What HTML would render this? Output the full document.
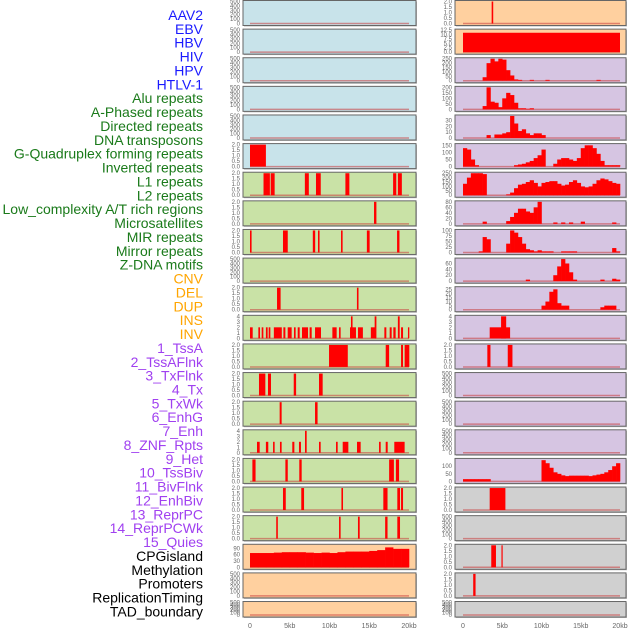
<!DOCTYPE html>
<html><head><meta charset="utf-8"><style>
body{margin:0;background:#fff;width:630px;height:630px;overflow:hidden}
svg{display:block}
text{font-family:"Liberation Sans",sans-serif}
</style></head><body>
<svg id="chart" width="630" height="630" viewBox="0 0 630 630"></svg>
<script>
const labels = ["AAV2","EBV","HBV","HIV","HPV","HTLV-1","Alu repeats","A-Phased repeats","Directed repeats","DNA transposons","G-Quadruplex forming repeats","Inverted repeats","L1 repeats","L2 repeats","Low_complexity A/T rich regions","Microsatellites","MIR repeats","Mirror repeats","Z-DNA motifs","CNV","DEL","DUP","INS","INV","1_TssA","2_TssAFlnk","3_TxFlnk","4_Tx","5_TxWk","6_EnhG","7_Enh","8_ZNF_Rpts","9_Het","10_TssBiv","11_BivFlnk","12_EnhBiv","13_ReprPC","14_ReprPCWk","15_Quies","CPGisland","Methylation","Promoters","ReplicationTiming","TAD_boundary"];
const labelColors = ["#1a1aff","#1a1aff","#1a1aff","#1a1aff","#1a1aff","#1a1aff","#1a7a1a","#1a7a1a","#1a7a1a","#1a7a1a","#1a7a1a","#1a7a1a","#1a7a1a","#1a7a1a","#1a7a1a","#1a7a1a","#1a7a1a","#1a7a1a","#1a7a1a","#ffa500","#ffa500","#ffa500","#ffa500","#ffa500","#a040f0","#a040f0","#a040f0","#a040f0","#a040f0","#a040f0","#a040f0","#a040f0","#a040f0","#a040f0","#a040f0","#a040f0","#a040f0","#a040f0","#a040f0","#000","#000","#000","#000","#000"];
const xTickLabels = ["0","5kb","10kb","15kb","20kb"];
const xTickValues = [0,5,10,15,20];
const leftBg = ["#c8e3ea","#c8e3ea","#c8e3ea","#c8e3ea","#c8e3ea","#c8e3ea","#c9e2a6","#c9e2a6","#c9e2a6","#c9e2a6","#c9e2a6","#c9e2a6","#c9e2a6","#c9e2a6","#c9e2a6","#c9e2a6","#c9e2a6","#c9e2a6","#c9e2a6","#ffd09f","#ffd09f","#ffd09f"];
const rightBg = ["#ffd09f","#ffd09f","#d6c5e2","#d6c5e2","#d6c5e2","#d6c5e2","#d6c5e2","#d6c5e2","#d6c5e2","#d6c5e2","#d6c5e2","#d6c5e2","#d6c5e2","#d6c5e2","#d6c5e2","#d6c5e2","#d6c5e2","#d0d0d0","#d0d0d0","#d0d0d0","#d0d0d0","#d0d0d0"];
const leftMax = [500,500,500,500,500,2,2,2,2,500,2,4,2,2,2,4,2,2,2,105,500,500];
const rightMax = [2,12.5,250,200,38,155,250,80,100,75,27,4,2,500,500,500,145,2,500,2,2,500];
const leftTicks = [[0,100,200,300,400,500],[0,100,200,300,400,500],[0,100,200,300,400,500],[0,100,200,300,400,500],[0,100,200,300,400,500],[0,0.5,1,1.5,2],[0,0.5,1,1.5,2],[0,0.5,1,1.5,2],[0,0.5,1,1.5,2],[0,100,200,300,400,500],[0,0.5,1,1.5,2],[0,1,2,3,4],[0,0.5,1,1.5,2],[0,0.5,1,1.5,2],[0,0.5,1,1.5,2],[0,1,2,3,4],[0,0.5,1,1.5,2],[0,0.5,1,1.5,2],[0,0.5,1,1.5,2],[0,30,60,90],[0,100,200,300,400,500],[0,100,200,300,400,500]];
const rightTicks = [[0,0.5,1,1.5,2],[0,2.5,5,7.5,10,12.5],[0,50,100,150,200,250],[0,50,100,150,200],[0,10,20,30],[0,50,100,150],[0,50,100,150,200,250],[0,20,40,60,80],[0,25,50,75,100],[0,20,40,60],[0,5,10,15,20,25],[0,1,2,3,4],[0,0.5,1,1.5,2],[0,100,200,300,400,500],[0,100,200,300,400,500],[0,100,200,300,400,500],[0,50,100],[0,0.5,1,1.5,2],[0,100,200,300,400,500],[0,0.5,1,1.5,2],[0,0.5,1,1.5,2],[0,100,200,300,400,500]];
// bars: [startKb, endKb, value]
const leftBars = [[],[],[],[],[],
 [[0,2,2]],
 [[1.7,2.5,2],[2.6,3.1,2],[6.9,7.4,2],[8.3,8.9,2],[12.0,12.5,2],[18.0,18.4,2],[18.6,19.1,2]],
 [[15.6,15.9,2]],
 [[0,0.2,2],[4.15,4.75,2],[7.9,8.2,2],[8.55,8.75,2],[11.45,11.65,2],[14.7,15.05,2],[18.5,18.8,2]],
 [],
 [[3.4,3.85,2],[13.45,13.65,2]],
 [[0,0.34,2],[1.05,1.26,2],[1.47,1.68,2],[2.0,2.22,2],[2.35,2.56,2],[3.0,4.0,2],[4.2,4.45,2],[4.74,5.24,2],[5.53,5.74,2],[6.0,6.25,2],[6.54,7.3,2],[7.5,7.76,2],[8.18,8.93,2],[10.36,10.9,2],[11.2,11.4,2],[12.58,13.33,2],[12.7,12.9,4],[13.58,14.2,2],[15.2,15.85,2],[15.68,15.9,4],[16.9,17.15,2],[17.57,17.82,2],[18.03,18.32,2],[18.6,18.83,4],[19.0,19.25,2],[19.87,20.04,2]],
 [[9.94,12.3,2],[17.07,17.5,2],[19.0,19.25,2],[19.45,20.04,2]],
 [[1.13,1.93,2],[2.26,2.64,2],[5.5,5.8,2],[8.68,9.14,2]],
 [[3.73,3.98,2],[8.18,8.5,2]],
 [[0.88,1.22,2],[2.0,2.3,2],[2.9,3.1,2],[3.77,3.98,2],[5.32,5.58,2],[6.16,6.41,2],[6.92,7.13,4],[8.68,8.89,2],[10.82,11.03,2],[11.66,12.37,2],[13.46,13.92,2],[16.23,16.44,2],[17.07,17.32,2],[18.15,19.45,2]],
 [[0.3,0.7,2],[4.45,4.75,2],[6.2,6.5,2],[17.5,18.1,2],[18.35,18.75,2]],
 [[4.15,4.5,2],[6.45,6.8,2],[11.5,11.7,2],[16.77,17.3,2],[18.53,18.87,2],[19.0,19.25,2]],
 [[3.3,3.5,2],[11.2,11.4,2],[13.58,13.8,2],[17.0,17.3,2],[18.53,18.87,2]],
 [],[],[]];
const rightBars = [[[3.65,3.85,2]],[[0,20,11]],[],[],[],[],[],[],[],[],[],
 [[3.4,6.0,2],[4.85,5.5,4]],
 [[3.1,3.5,2],[5.7,6.3,2]],
 [],[],[],[],
 [[3.4,5.4,2]],
 [],
 [[3.6,4.2,2],[4.9,5.05,2]],
 [[1.3,1.6,2]],
 []];
// histograms (equal bins over 0-20kb)
const leftHistCpG = [68,68,68,70,72,72,72,70,68,70,68,72,75,75,75,78,82,95,88,88];
const histTssAFlnk = [0,0,0,0,0,40,200,250,220,250,240,120,60,15,10,0,0,10,0,0,0,10,0,0,0,0,0,0,0,0,0,0,0,0,10,0,0,0,0,0];
const histTxFlnk = [0,0,0,0,0,30,200,70,60,20,100,150,130,60,10,10,5,10,0,0,0,0,0,0,0,0,0,0,0,0,0,0,0,0,0,0,0,0,0,0];
const histTx = [0,0,0,0,0,0,5,0,6,6,8,10,38,25,12,15,8,5,8,8,5,0,0,0,0,0,0,0,0,0,0,0,0,0,0,0,0,0,0,0];
const histTxWk = [130,120,50,10,0,0,0,0,0,0,0,0,0,10,15,20,30,40,60,80,120,0,0,20,50,60,60,50,40,60,130,150,150,130,90,40,10,10,10,10];
const histEnhG = [130,200,250,250,250,240,0,0,0,0,0,10,30,80,120,130,150,170,140,100,140,150,160,160,130,110,120,150,170,140,100,90,100,130,170,190,180,160,140,130];
const histEnh = [0,0,0,0,0,8,0,0,0,0,0,10,25,40,55,55,45,40,60,80,0,0,0,5,0,5,0,5,0,0,8,0,0,0,0,0,0,0,5,0];
const histZNF = [0,0,0,0,5,70,60,0,0,0,0,40,100,90,70,40,15,10,5,10,5,5,5,0,0,5,5,5,5,0,0,0,0,0,0,0,0,0,20,5];
const histHet = [0,0,0,0,0,0,0,0,0,0,0,0,0,0,0,0,5,0,0,0,0,0,0,20,50,75,60,30,5,0,0,0,0,0,0,5,0,0,8,5];
const histTssBiv = [0,0,0,0,0,0,0,0,0,0,0,0,0,0,0,0,0,0,0,0,5,10,22,25,8,5,5,0,0,0,0,0,0,0,0,3,5,5,5,0];
const histReprPC = [15,15,15,15,15,15,15,0,0,0,0,0,0,0,0,0,0,0,0,0,140,120,90,60,50,40,35,38,38,38,38,38,35,40,45,50,60,75,100,120];
const leftHists = {19: leftHistCpG};
const rightHists = {2: histTssAFlnk, 3: histTxFlnk, 4: histTx, 5: histTxWk, 6: histEnhG, 7: histEnh, 8: histZNF, 9: histHet, 10: histTssBiv, 16: histReprPC};

const NS = "http://www.w3.org/2000/svg";
const svg = document.getElementById("chart");
function mk(tag, attrs, parent){const e=document.createElementNS(NS,tag);for(const k in attrs)e.setAttribute(k,attrs[k]);(parent||svg).appendChild(e);return e;}

// labels
labels.forEach((t,i)=>{
  const e = mk("text",{x:203,y:20+i*13.87,"text-anchor":"end","font-size":"14",fill:labelColors[i]});
  e.textContent=t;
  
  
});

const cols = [{px0:243,px1:416,x0:250,x20:409,bg:leftBg,max:leftMax,ticks:leftTicks,bars:leftBars,hists:leftHists,name:"left"},
              {px0:455,px1:626,x0:463,x20:620,bg:rightBg,max:rightMax,ticks:rightTicks,bars:rightBars,hists:rightHists,name:"right"}];

cols.forEach(c=>{
  const xs = kb => c.x0 + (kb/20)*(c.x20-c.x0);
  for(let r=0;r<22;r++){
    const top = r*28.62 + 0.5;
    const h = r===21 ? 15.5 : 25;
    const g = mk("g",{});
    
    
    mk("rect",{x:c.px0+1,y:top+1,width:c.px1-c.px0,height:h,fill:"#bbb"},g);
    mk("rect",{x:c.px0,y:top,width:c.px1-c.px0,height:h,fill:c.bg[r],stroke:"#666","stroke-width":1},g);
    const max=c.max[r];
    const y0 = top+h-2, sc=(h-3)/max;
    const ys = v => y0 - v*sc;
    // ticks
    c.ticks[r].forEach(v=>{
      const t=mk("text",{x:c.px0-3,y:ys(v)+2,"text-anchor":"end","font-size":"6",fill:"#666"},g);
      t.textContent = (max===2 && r!==0 ? v.toFixed(1) : (max===2||max===12.5 ? (Number.isInteger(v)&&max===12.5? v.toFixed(1): v.toFixed(1)) : String(v)));
      
      
    });
    // baseline
    mk("line",{x1:xs(0),x2:xs(20),y1:y0,y2:y0,stroke:"rgba(200,60,60,0.55)","stroke-width":1.5},g);
    // hist
    const hv = c.hists[r];
    if(hv){
      const bw = 20/hv.length;
      hv.forEach((v,i)=>{
        if(v<=0) return;
        const b=mk("rect",{x:xs(i*bw),y:ys(v),width:xs((i+1)*bw)-xs(i*bw)+0.3,height:v*sc,fill:"#ff0000"},g);
        
        
      });
    }
    c.bars[r].forEach(s=>{
      const w=Math.max(1.2,xs(s[1])-xs(s[0]));
      const b=mk("rect",{x:xs(s[0]),y:ys(s[2]),width:w,height:s[2]*sc,fill:"#ff0000"},g);
      
      
    });
  }
  xTickValues.forEach((v,i)=>{
    const t=mk("text",{x:xs(v),y:628,"text-anchor":"middle","font-size":"7",fill:"#666"});
    t.textContent=xTickLabels[i];
    
    
  });
});
</script>
</body></html>
